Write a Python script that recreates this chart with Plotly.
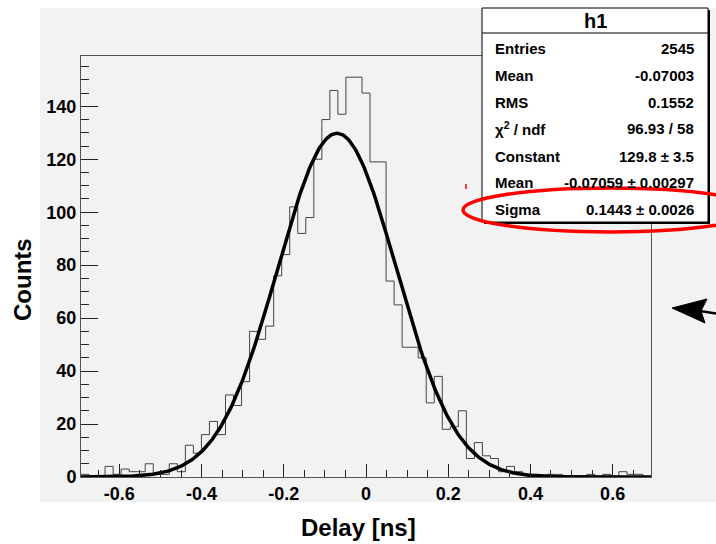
import numpy as np
import plotly.graph_objects as go

# Histogram h1: 71 bins of one TDC step (19.53 ps), centred on zero
bin_width = 0.01953
n_bins = 71
counts = [1, 0, 0, 4, 1, 3, 2, 2, 5, 1, 1, 5, 2, 12, 9, 16, 21, 16,
          31, 27, 36, 55, 52, 57, 76, 84, 102, 92, 98, 120, 135, 146, 137, 151, 151,
          145, 119, 119, 74, 65, 49, 49, 45, 28, 38, 18, 19, 25, 7, 13, 8, 7, 2, 4, 2,
          1, 1, 0, 1, 1, 0, 0, 0, 1, 0, 1, 0, 2, 1, 1, 0]

# Gaussian fit result shown in the stats box
fit_const = 129.8
fit_mean = -0.07059
fit_sigma = 0.1443

x_tick_vals = [-0.6, -0.4, -0.2, 0, 0.2, 0.4, 0.6]
x_tick_text = ['-0.6', '-0.4', '-0.2', '0', '0.2', '0.4', '0.6']
y_tick_vals = [0, 20, 40, 60, 80, 100, 120, 140]

stat_labels = ['Entries', 'Mean', 'RMS', '\u03c7<sup>2</sup> / ndf', 'Constant', 'Mean', 'Sigma']
stat_values = ['2545', '-0.07003', '0.1552', '96.93 / 58', '129.8 \u00b1 3.5',
               '-0.07059 \u00b1 0.00297', '0.1443 \u00b1 0.0026']

x_lo = -n_bins / 2 * bin_width
x_hi = n_bins / 2 * bin_width
edges = [x_lo + i * bin_width for i in range(n_bins + 1)]

# page geometry (pixels) -> paper coordinates
L, R, T, B, W, H = 81, 65, 56, 67, 716, 544
pw, ph = W - L - R, H - T - B


def px(x):
    return (x - L) / pw


def py(y):
    return (H - B - y) / ph


font = 'Liberation Sans'

fig = go.Figure()

# histogram outline
fig.add_trace(go.Scatter(x=edges, y=counts + [counts[-1]], mode='lines',
                         line=dict(color='#444444', width=1, shape='hv'),
                         hoverinfo='skip'))

# gaussian fit
xf = np.linspace(x_lo, x_hi, 500)
yf = fit_const * np.exp(-0.5 * ((xf - fit_mean) / fit_sigma) ** 2)
fig.add_trace(go.Scatter(x=xf, y=yf, mode='lines',
                         line=dict(color='black', width=3.5), hoverinfo='skip'))

axis_font = dict(family=font, size=18, color='black', weight='bold')
fig.update_xaxes(range=[x_lo, x_hi], tickmode='array', tickvals=x_tick_vals,
                 ticktext=x_tick_text, ticks='inside', ticklen=13, tickcolor='#222222',
                 minor=dict(tickmode='linear', tick0=0, dtick=0.05, ticks='inside',
                            ticklen=7, tickcolor='#222222'),
                 showline=True, linecolor='#555555', linewidth=1, mirror=True,
                 showgrid=False, zeroline=False, tickfont=axis_font)
fig.update_yaxes(range=[0, 159], tickmode='array', tickvals=y_tick_vals,
                 ticks='inside', ticklen=17, tickcolor='#222222',
                 minor=dict(tickmode='linear', tick0=0, dtick=5, ticks='inside',
                            ticklen=8, tickcolor='#222222'),
                 showline=True, linecolor='#555555', linewidth=1, mirror=True,
                 showgrid=False, zeroline=False, tickfont=axis_font)

shapes = [
    # grey pad
    dict(type='rect', xref='paper', yref='paper', x0=px(40), x1=px(720), y0=py(502), y1=py(8),
         fillcolor='#f2f2f2', line=dict(width=0), layer='below'),
    # stats box shadow and box
    dict(type='rect', xref='paper', yref='paper', x0=px(484), x1=px(710), y0=py(224), y1=py(10),
         fillcolor='black', line=dict(width=0), layer='above'),
    dict(type='rect', xref='paper', yref='paper', x0=px(482), x1=px(708), y0=py(222), y1=py(8),
         fillcolor='white', line=dict(color='black', width=1), layer='above'),
    dict(type='line', xref='paper', yref='paper', x0=px(482), x1=px(708), y0=py(33), y1=py(33),
         line=dict(color='black', width=1), layer='above'),
    # red ellipse around sigma
    dict(type='circle', xref='paper', yref='paper', x0=px(463), x1=px(757), y0=py(232), y1=py(188),
         line=dict(color='#ff0000', width=3.5), layer='above'),
    dict(type='line', xref='paper', yref='paper', x0=px(466), x1=px(466), y0=py(189), y1=py(184),
         line=dict(color='#ff0000', width=1.5), layer='above'),
    # arrow at the right edge
    dict(type='path', xref='paper', yref='paper',
         path='M %f,%f L %f,%f L %f,%f L %f,%f Z' % (px(672), py(308), px(707), py(299),
                                                   px(701), py(311), px(705), py(323)),
         fillcolor='black', line=dict(color='black', width=1), layer='above'),
    dict(type='line', xref='paper', yref='paper', x0=px(700), x1=px(720), y0=py(311), y1=py(314),
         line=dict(color='black', width=2.5), layer='above'),
]

annotations = [
    dict(text='Counts', x=px(22), y=py(280), textangle=-90,
         font=dict(family=font, size=24, color='black', weight='bold')),
    dict(text='Delay [ns]', x=px(358), y=py(527),
         font=dict(family=font, size=24, color='black', weight='bold')),
    dict(text='h1', x=px(595), y=py(21),
         font=dict(family=font, size=20, color='black', weight='bold')),
]
row_y = [49, 75.5, 102, 128.5, 156, 182.5, 209]
for label, value, yy in zip(stat_labels, stat_values, row_y):
    annotations.append(dict(text=label, x=px(493), y=py(yy), xanchor='left',
                            font=dict(family=font, size=15, color='black', weight='bold')))
    annotations.append(dict(text=value, x=px(696), y=py(yy), xanchor='right',
                            font=dict(family=font, size=15, color='black', weight='bold')))
for a in annotations:
    a.update(xref='paper', yref='paper', showarrow=False)
    a.setdefault('xanchor', 'center')
    a.setdefault('yanchor', 'middle')

fig.update_layout(width=W, height=H, margin=dict(l=L, r=R, t=T, b=B),
                  paper_bgcolor='white', plot_bgcolor='#f2f2f2', showlegend=False,
                  shapes=shapes, annotations=annotations)

# drop the default page margin so the figure sits at the window corner
fig.write_html('out.html', config={'displayModeBar': False},
               post_script="document.body.style.margin='0';")
